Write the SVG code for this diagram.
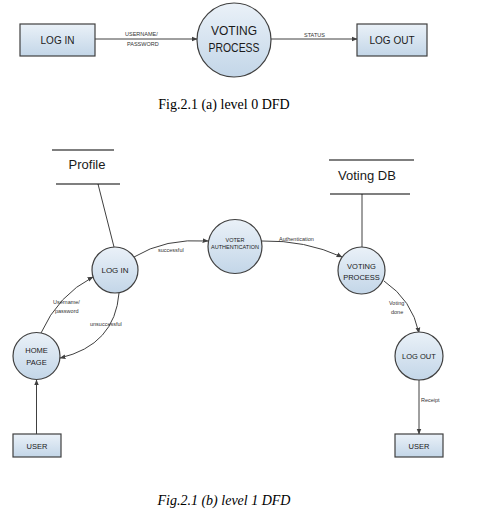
<svg xmlns="http://www.w3.org/2000/svg" width="479" height="518" viewBox="0 0 479 518">
<defs>
<linearGradient id="g" x1="0" y1="0" x2="0" y2="1">
<stop offset="0" stop-color="#eaf1f8"/>
<stop offset="1" stop-color="#c3d6e8"/>
</linearGradient>
<marker id="a" viewBox="0 0 10 10" refX="9" refY="5" markerWidth="6" markerHeight="6" orient="auto" markerUnits="userSpaceOnUse">
<path d="M0,1 L10,5 L0,9 Z" fill="#404040"/>
</marker>
</defs>
<style>
.n{fill:url(#g);stroke:#404040;stroke-width:1.2}
.t{font-family:"Liberation Sans",Arial,sans-serif;fill:#1a1a1a;text-anchor:middle}
.l{font-family:"Liberation Sans",Arial,sans-serif;fill:#333;font-size:5.5px}
.c{fill:none;stroke:#404040;stroke-width:1}
.s{stroke:#000;stroke-width:1.2}
.cap{font-family:"Liberation Serif","Times New Roman",serif;font-size:14px;fill:#000;text-anchor:middle}
</style>
<rect width="479" height="518" fill="#fff"/>
<g id="connectors">
<line class="c" x1="95" y1="39" x2="197" y2="39" marker-end="url(#a)"/>
<line class="c" x1="271" y1="39" x2="357" y2="39" marker-end="url(#a)"/>
<line class="c" x1="98" y1="184" x2="114" y2="247"/>
<line class="c" x1="362" y1="194" x2="362" y2="247"/>
<path class="c" d="M134,257 Q165,238 208,241" marker-end="url(#a)"/>
<path class="c" d="M262,241 Q305,240 342,257" marker-end="url(#a)"/>
<path class="c" d="M384,281 Q412,300 419,333" marker-end="url(#a)"/>
<path class="c" d="M41,333 Q58,295 93,277" marker-end="url(#a)"/>
<path class="c" d="M119,293 Q115,345 60,358" marker-end="url(#a)"/>
<line class="c" x1="36.5" y1="434" x2="36.5" y2="380" marker-end="url(#a)"/>
<line class="c" x1="419" y1="380" x2="419" y2="434" marker-end="url(#a)"/>
</g>
<g class="l">
<text x="125" y="35.5">USERNAME/</text>
<text x="127" y="45.5">PASSWORD</text>
<text x="304" y="36.5">STATUS</text>
<text x="158" y="252">successful</text>
<text x="279" y="240.5">Authentication</text>
<text x="389" y="305">Voting</text>
<text x="391" y="313.5">done</text>
<text x="53" y="304">Username/</text>
<text x="55" y="312.5">password</text>
<text x="90" y="326">unsuccessful</text>
<text x="421" y="402">Receipt</text>
</g>
<g id="login0"><rect class="n" x="20" y="24" width="75" height="32"/><text class="t" x="57.5" y="43.5" font-size="10">LOG IN</text></g>
<g id="voting0"><circle class="n" cx="234" cy="40" r="37"/><text class="t" x="234" y="35" font-size="13" textLength="46" lengthAdjust="spacingAndGlyphs">VOTING</text><text class="t" x="234" y="52" font-size="13" textLength="51" lengthAdjust="spacingAndGlyphs">PROCESS</text></g>
<g id="logout0"><rect class="n" x="357" y="24" width="70" height="32"/><text class="t" x="392" y="43.5" font-size="10">LOG OUT</text></g>
<text class="cap" x="224" y="109">Fig.2.1 (a) level 0 DFD</text>
<g id="profile"><line class="s" x1="52" y1="150" x2="114" y2="150"/><line class="s" x1="56" y1="184" x2="120" y2="184"/><text class="t" x="87" y="169" font-size="13">Profile</text></g>
<g id="votingdb"><line class="s" x1="329" y1="160" x2="414" y2="160"/><line class="s" x1="330" y1="194" x2="410" y2="194"/><text class="t" x="367" y="180" font-size="13">Voting DB</text></g>
<g id="login1"><circle class="n" cx="115" cy="270" r="23"/><text class="t" x="115" y="273" font-size="8">LOG IN</text></g>
<g id="voterauth"><circle class="n" cx="235" cy="246.5" r="27"/><text class="t" x="235" y="241.5" font-size="5.5">VOTER</text><text class="t" x="235" y="249" font-size="5.5">AUTHENTICATION</text></g>
<g id="voting1"><circle class="n" cx="361.5" cy="270.5" r="23.5"/><text class="t" x="361.5" y="268.5" font-size="7.5">VOTING</text><text class="t" x="361.5" y="279.5" font-size="7.5">PROCESS</text></g>
<g id="homepage"><circle class="n" cx="36.5" cy="356" r="23.5"/><text class="t" x="36.5" y="353" font-size="7.5">HOME</text><text class="t" x="36.5" y="364.5" font-size="7.5">PAGE</text></g>
<g id="logout1"><circle class="n" cx="419" cy="356" r="24"/><text class="t" x="419" y="359" font-size="7.5">LOG OUT</text></g>
<g id="user1"><rect class="n" x="13" y="434" width="48" height="23"/><text class="t" x="37" y="448.5" font-size="7.5">USER</text></g>
<g id="user2"><rect class="n" x="395" y="434" width="48" height="23"/><text class="t" x="419" y="448.5" font-size="7.5">USER</text></g>
<text class="cap" x="224" y="505" font-style="italic">Fig.2.1 (b) level 1 DFD</text>
</svg>
